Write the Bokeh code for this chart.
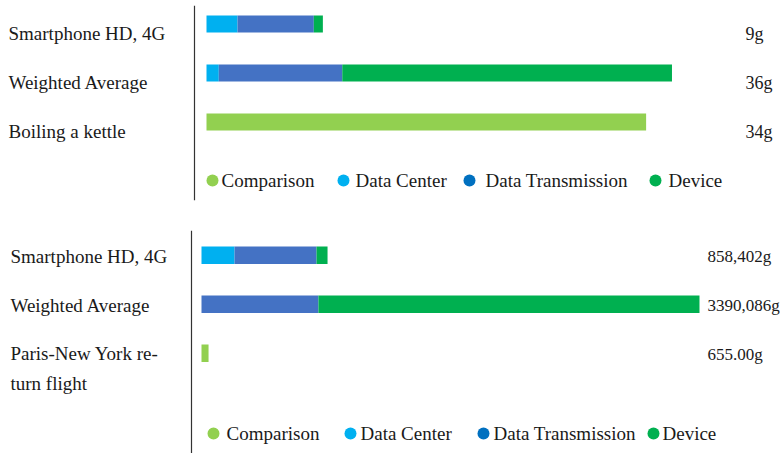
from bokeh.plotting import figure
from bokeh.models import ColumnDataSource, Range1d, LabelSet, Span
from bokeh.layouts import column
from bokeh.embed import file_html
from bokeh.resources import INLINE

# ---------------- data ----------------
series = ["Comparison", "Data Center", "Data Transmission", "Device"]
stack_keys = ["comparison", "data_center", "data_transmission", "device"]
bar_colors = ["#92D050", "#00B0F0", "#4472C4", "#00B050"]
legend_colors = ["#92D050", "#00B0F0", "#0070C0", "#00B050"]

top_categories = ["Smartphone HD, 4G", "Weighted Average", "Boiling a kettle"]
top_comparison = [0, 0, 34]
top_data_center = [2.4, 0.95, 0]
top_data_transmission = [5.9, 9.55, 0]
top_device = [0.7, 25.5, 0]
top_value_labels = ["9g", "36g", "34g"]

bottom_categories = ["Smartphone HD, 4G", "Weighted Average", "Paris-New York re-\nturn flight"]
bottom_comparison = [0, 0, 48]
bottom_data_center = [225, 0, 0]
bottom_data_transmission = [558, 796, 0]
bottom_device = [75, 2594, 0]
bottom_value_labels = ["858,402g", "3390,086g", "655.00g"]

FONT = "Liberation Serif"
FS = "19px"
LINE_H = 1.45
TEXT_COLOR = "#1a1a1a"
W = 784


def panel(categories, comp, dc, dt, dev, value_labels, height, b_top, b_bottom,
          ppu, bar_start, axis_px, row0, step, bar_h, text_dy, label_x, value_x, value_fs,
          legend_y, dots, texts):
    fh = height - b_top - b_bottom
    x0 = -bar_start / ppu
    x1 = x0 + W / ppu
    ytop = -(row0 - b_top) / step
    ybot = ytop + fh / step

    def px2x(px):
        return x0 + px / ppu

    def px2y(py):
        return ytop + (py - b_top) / step

    p = figure(width=W, height=height, output_backend="svg", toolbar_location=None,
               x_range=Range1d(x0, x1), y_range=Range1d(ybot, ytop),
               min_border_left=0, min_border_right=0,
               min_border_top=b_top, min_border_bottom=b_bottom)
    p.axis.visible = False
    p.grid.visible = False
    p.outline_line_color = None

    p.add_layout(Span(location=px2x(axis_px), dimension="height",
                      line_color="#333333", line_width=1.2))

    # multi-line labels: keep the first line level with the bar
    line_px = float(FS[:-2]) * LINE_H
    offsets = [-text_dy - (c.count("\n")) * line_px / 2 for c in categories]

    src = ColumnDataSource(dict(row=list(range(len(categories))), cat=categories,
                                vlabel=value_labels, yoff=offsets, comparison=comp,
                                data_center=dc, data_transmission=dt, device=dev))
    p.hbar_stack(stack_keys, y="row", height=bar_h, color=bar_colors, line_color=None,
                 source=src)

    p.add_layout(LabelSet(x=px2x(label_x), y="row", text="cat", source=src,
                          y_offset="yoff", text_baseline="middle", text_align="left",
                          text_font=FONT, text_font_size=FS, text_color=TEXT_COLOR,
                          text_line_height=LINE_H))
    p.add_layout(LabelSet(x=px2x(value_x), y="row", text="vlabel", source=src,
                          y_offset=-text_dy, text_baseline="middle", text_align="left",
                          text_font=FONT, text_font_size=value_fs, text_color=TEXT_COLOR))

    ly = px2y(legend_y)
    lsrc = ColumnDataSource(dict(dx=[px2x(d) for d in dots], tx=[px2x(t) for t in texts],
                                 y=[ly] * len(series), label=series, color=legend_colors))
    p.scatter(x="dx", y="y", size=12, color="color", line_color=None, source=lsrc)
    p.add_layout(LabelSet(x="tx", y="y", text="label", source=lsrc, text_baseline="middle",
                          text_align="left", text_font=FONT, text_font_size=FS,
                          text_color=TEXT_COLOR))
    return p


top = panel(top_categories, top_comparison, top_data_center, top_data_transmission,
            top_device, top_value_labels, height=218, b_top=5, b_bottom=18,
            ppu=12.93, bar_start=206, axis_px=194, row0=23.5, step=49, bar_h=0.35,
            text_dy=9.5, label_x=8, value_x=745, value_fs="18px", legend_y=180,
            dots=[212, 343, 469, 655], texts=[221, 355, 485, 668])

bottom = panel(bottom_categories, bottom_comparison, bottom_data_center,
               bottom_data_transmission, bottom_device, bottom_value_labels,
               height=235, b_top=12, b_bottom=0,
               ppu=0.1469, bar_start=201, axis_px=191, row0=254.7 - 218, step=49,
               bar_h=0.36, text_dy=1.5, label_x=10, value_x=707, value_fs="17px",
               legend_y=433 - 218, dots=[213, 350, 483, 653], texts=[226, 360, 493, 662])

layout = column(top, bottom, spacing=0)
open("out.html", "w").write(file_html(layout, INLINE))
